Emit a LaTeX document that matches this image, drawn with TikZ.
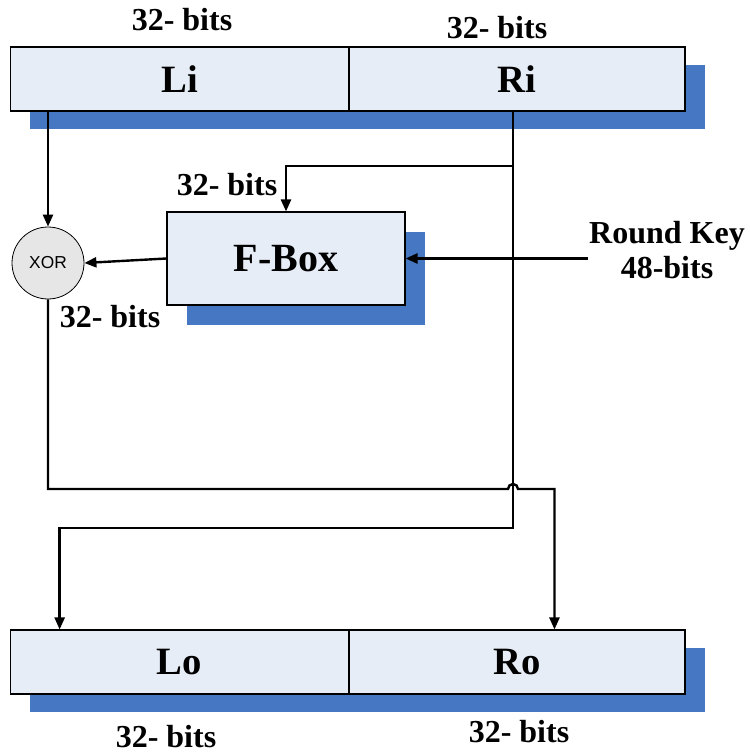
\documentclass[tikz,border=0pt]{standalone}
\usepackage{fontspec}
\setmainfont{Liberation Serif}
\newfontfamily\xorfont{Liberation Sans}
\usepackage{tikz}
\usetikzlibrary{arrows.meta,positioning,shadows}
\definecolor{halffill}{RGB}{231,237,247}
\definecolor{shadowblue}{RGB}{70,119,195}
\definecolor{xorgray}{RGB}{230,230,230}

\begin{document}
\begin{tikzpicture}[x=0.75pt, y=-0.75pt,
  half/.style={draw, line width=0.8pt, fill=halffill, minimum width=254pt, minimum height=48pt, inner sep=0pt,
    font=\bfseries\fontsize{29}{31}\selectfont,
    drop shadow={shadow xshift=15pt, shadow yshift=-13.5pt, fill=shadowblue, opacity=1}},
  fblock/.style={draw, line width=0.8pt, fill=halffill, minimum width=178.5pt, minimum height=69.75pt, inner sep=0pt,
    font=\bfseries\fontsize{30}{32}\selectfont,
    drop shadow={shadow xshift=15pt, shadow yshift=-15pt, fill=shadowblue, opacity=1}},
  xorgate/.style={circle, draw, line width=0.6pt, fill=xorgray, minimum size=54pt, inner sep=0pt, font=\xorfont\fontsize{13}{14}\selectfont},
  bits/.style={font=\bfseries\fontsize{24}{26}\selectfont, inner sep=1pt, align=center},
  arrow/.style={-{Triangle[length=9pt,width=7.5pt]}, line width=1.8pt},
  wire/.style={line width=1.8pt}
]
\useasboundingbox (0,0) rectangle (749,755);

% input halves
\node[half] (li) at (179.5,79) {Li};
\node[half, minimum width=252pt] (ri) at (517,79) {Ri};
\node[bits] (bitsli) at (182,20) {32- bits};
\node[bits] (bitsri) at (497,28) {32- bits};

% round function
\node[fblock] (fbox) at (286,258.5) {F-Box};
\node[xorgate] (xor) at (48,263) {XOR};
\node[bits] (bitsf) at (227,185) {32- bits};
\node[bits] (bitsx) at (110,317) {32- bits};
\node[bits] (rkey) at (667,250) {Round Key\\48-bits};

% output halves
\node[half] (lo) at (179.5,662) {Lo};
\node[half, minimum width=252pt] (ro) at (517,662) {Ro};
\node[bits] (bitslo) at (166,737) {32- bits};
\node[bits] (bitsro) at (519,732) {32- bits};

\coordinate (riout) at ([xshift=-3pt]ri.south);
\coordinate (split) at (riout |- 0,166);
\coordinate (hop) at (riout |- 0,489);

\draw[arrow] (xor.north |- li.south) -- (xor.north);
\draw[wire] (riout) -- (split);
\draw[arrow] (split) -| (fbox.north);
\draw[arrow] (split) -- ++(0,362) -| ([xshift=37.5pt]lo.north west);
\draw[arrow] (rkey.west |- fbox.east) -- (fbox.east);
\draw[arrow] (fbox.west) -- (xor.east);
\draw[arrow] (xor.south) |- ([xshift=-3.75pt]hop) arc[start angle=180, end angle=0, radius=3.75pt]
  -| ([xshift=154.5pt]ro.north west);
\end{tikzpicture}
\end{document}
